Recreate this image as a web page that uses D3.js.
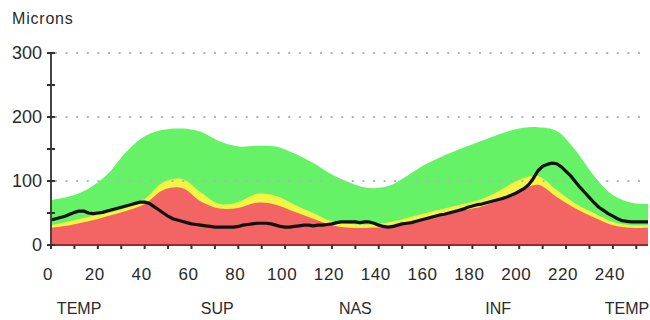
<!DOCTYPE html>
<html>
<head>
<meta charset="utf-8">
<script src="https://cdn.jsdelivr.net/npm/d3@7"></script>
<style>
  html, body { margin: 0; padding: 0; background: #fff; }
  svg { display: block; }
  text { font-family: "Liberation Sans", Arial, sans-serif; fill: #2a2a2a; }
</style>
</head>
<body>
<svg id="chart" width="650" height="320"></svg>
<script>
// Scan positions (0-255) for the normative bands
const bandPos = [0, 8, 16, 24, 32, 40, 48, 56, 64, 72, 80, 88, 96, 104, 112, 120, 128,
                 136, 144, 152, 160, 168, 176, 184, 192, 200, 208, 216, 224, 232, 240, 248, 255];
// 95th percentile (top of green band)
const p95 = [70, 76, 88, 110, 145, 170, 180, 182, 177, 162, 154, 155, 154, 143, 128, 110, 97,
             89, 92, 108, 126, 140, 152, 163, 174, 182, 184, 178, 148, 108, 78, 66, 64];
// 5th percentile (top of yellow band)
const p5 = [31, 37, 44, 50, 58, 72, 98, 103, 82, 64, 67, 80, 77, 63, 50, 37, 33,
            32, 35, 42, 50, 57, 64, 72, 86, 102, 108, 86, 65, 50, 36, 31, 31];
// 1st percentile (top of red band)
const p1 = [27, 31, 37, 45, 53, 64, 86, 89, 68, 57, 58, 66, 63, 52, 41, 31, 27,
            27, 28, 33, 40, 47, 54, 60, 71, 84, 94, 75, 57, 43, 31, 27, 27];

// Measured thickness profile
const scanPos = [0, 2, 4, 6, 8, 10, 12, 14, 16, 18, 20, 22, 24, 26, 28, 30, 32, 34, 36, 38,
  40, 42, 44, 46, 48, 50, 52, 54, 56, 58, 60, 62, 64, 66, 68, 70, 72, 74, 76, 78,
  80, 82, 84, 86, 88, 90, 92, 94, 96, 98, 100, 102, 104, 106, 108, 110, 112, 114, 116, 118,
  120, 122, 124, 126, 128, 130, 132, 134, 136, 138, 140, 142, 144, 146, 148, 150, 152, 154, 156, 158,
  160, 162, 164, 166, 168, 170, 172, 174, 176, 178, 180, 182, 184, 186, 188, 190, 192, 194, 196, 198,
  200, 202, 204, 206, 208, 210, 212, 214, 216, 218, 220, 222, 224, 226, 228, 230, 232, 234, 236, 238,
  240, 242, 244, 246, 248, 250, 252, 255];
const thickness = [39, 41, 43, 45, 48, 51, 53, 53, 50, 49, 50, 51, 53, 55, 57, 59, 61, 63, 65, 67,
  67, 65, 60, 55, 50, 45, 41, 39, 37, 35, 33, 32, 31, 30, 29, 28, 28, 28, 28, 28,
  29, 31, 32, 33, 34, 34, 34, 33, 31, 29, 28, 28, 29, 30, 31, 31, 30, 31, 31, 32,
  33, 35, 36, 36, 36, 36, 35, 36, 36, 34, 31, 29, 28, 29, 31, 33, 34, 35, 37, 39,
  41, 43, 45, 47, 48, 50, 52, 54, 56, 59, 61, 63, 64, 66, 68, 70, 72, 74, 77, 80,
  84, 88, 94, 104, 116, 123, 126, 128, 127, 122, 115, 108, 99, 90, 82, 74, 66, 59, 54, 49,
  45, 41, 38, 37, 36, 36, 36, 36];

const xTicks = [0, 20, 40, 60, 80, 100, 120, 140, 160, 180, 200, 220, 240];
const yTicks = [0, 100, 200, 300];
const quadrants = ["TEMP", "SUP", "NAS", "INF", "TEMP"];
const quadrantPos = [12, 71, 130, 191, 246];

const svg = d3.select("#chart");
const x = d3.scaleLinear().domain([0, 255]).range([51, 648]);
const y = d3.scaleLinear().domain([0, 300]).range([245, 53]);

const bands = bandPos.map((p, i) => ({ p, hi: p95[i], mid: p5[i], lo: p1[i] }));
const area = key => d3.area()
  .x(d => x(d.p)).y0(y(0)).y1(d => y(d[key]))
  .curve(d3.curveCatmullRom.alpha(0.5));

svg.append("path").datum(bands).attr("d", area("hi")).attr("fill", "#66f266");
svg.append("path").datum(bands).attr("d", area("mid")).attr("fill", "#f4f444");
svg.append("path").datum(bands).attr("d", area("lo")).attr("fill", "#f36464");

// dotted grid lines
svg.append("g").selectAll("line").data(yTicks.filter(v => v > 0)).join("line")
  .attr("x1", x(0) + 4).attr("x2", x(255))
  .attr("y1", d => y(d)).attr("y2", d => y(d))
  .attr("stroke", "#b4b4b4").attr("stroke-width", 2)
  .attr("stroke-dasharray", "2,8.6");

// measured profile
const line = d3.line().x((d, i) => x(scanPos[i])).y(d => y(d));
svg.append("path").datum(thickness).attr("d", line)
  .attr("fill", "none").attr("stroke", "#111").attr("stroke-width", 3.2)
  .attr("stroke-linejoin", "round");

// x axis
svg.append("line").attr("x1", x(0)).attr("x2", x(255)).attr("y1", y(0)).attr("y2", y(0))
  .attr("stroke", "#9b2a2a").attr("stroke-width", 2);
svg.append("g").selectAll("line").data(d3.range(0, 256, 10)).join("line")
  .attr("x1", d => x(d)).attr("x2", d => x(d))
  .attr("y1", y(0)).attr("y2", y(0) + 4)
  .attr("stroke", "#333").attr("stroke-width", 2);
svg.append("g").selectAll("text").data(xTicks).join("text")
  .attr("x", d => x(d) - 3).attr("y", 280)
  .attr("text-anchor", "middle").attr("font-size", 17).attr("letter-spacing", 0.6)
  .text(d => d);

// y axis
svg.append("line").attr("x1", x(0)).attr("x2", x(0)).attr("y1", y(300)).attr("y2", y(0))
  .attr("stroke", "#444").attr("stroke-width", 2);
svg.append("g").selectAll("line").data(d3.range(0, 301, 50)).join("line")
  .attr("x1", x(0) - 4).attr("x2", x(0) + 4)
  .attr("y1", d => y(d)).attr("y2", d => y(d))
  .attr("stroke", "#333").attr("stroke-width", 2);
svg.append("g").selectAll("text").data(yTicks).join("text")
  .attr("x", 42).attr("y", d => y(d)).attr("dy", "0.36em")
  .attr("text-anchor", "end").attr("font-size", 18)
  .text(d => d);

svg.append("text").attr("x", 12).attr("y", 24).attr("font-size", 16).attr("letter-spacing", 0.8)
  .text("Microns");

svg.append("g").selectAll("text").data(quadrants).join("text")
  .attr("x", (d, i) => x(quadrantPos[i])).attr("y", 314)
  .attr("text-anchor", "middle").attr("font-size", 16)
  .text(d => d);
</script>
</body>
</html>
